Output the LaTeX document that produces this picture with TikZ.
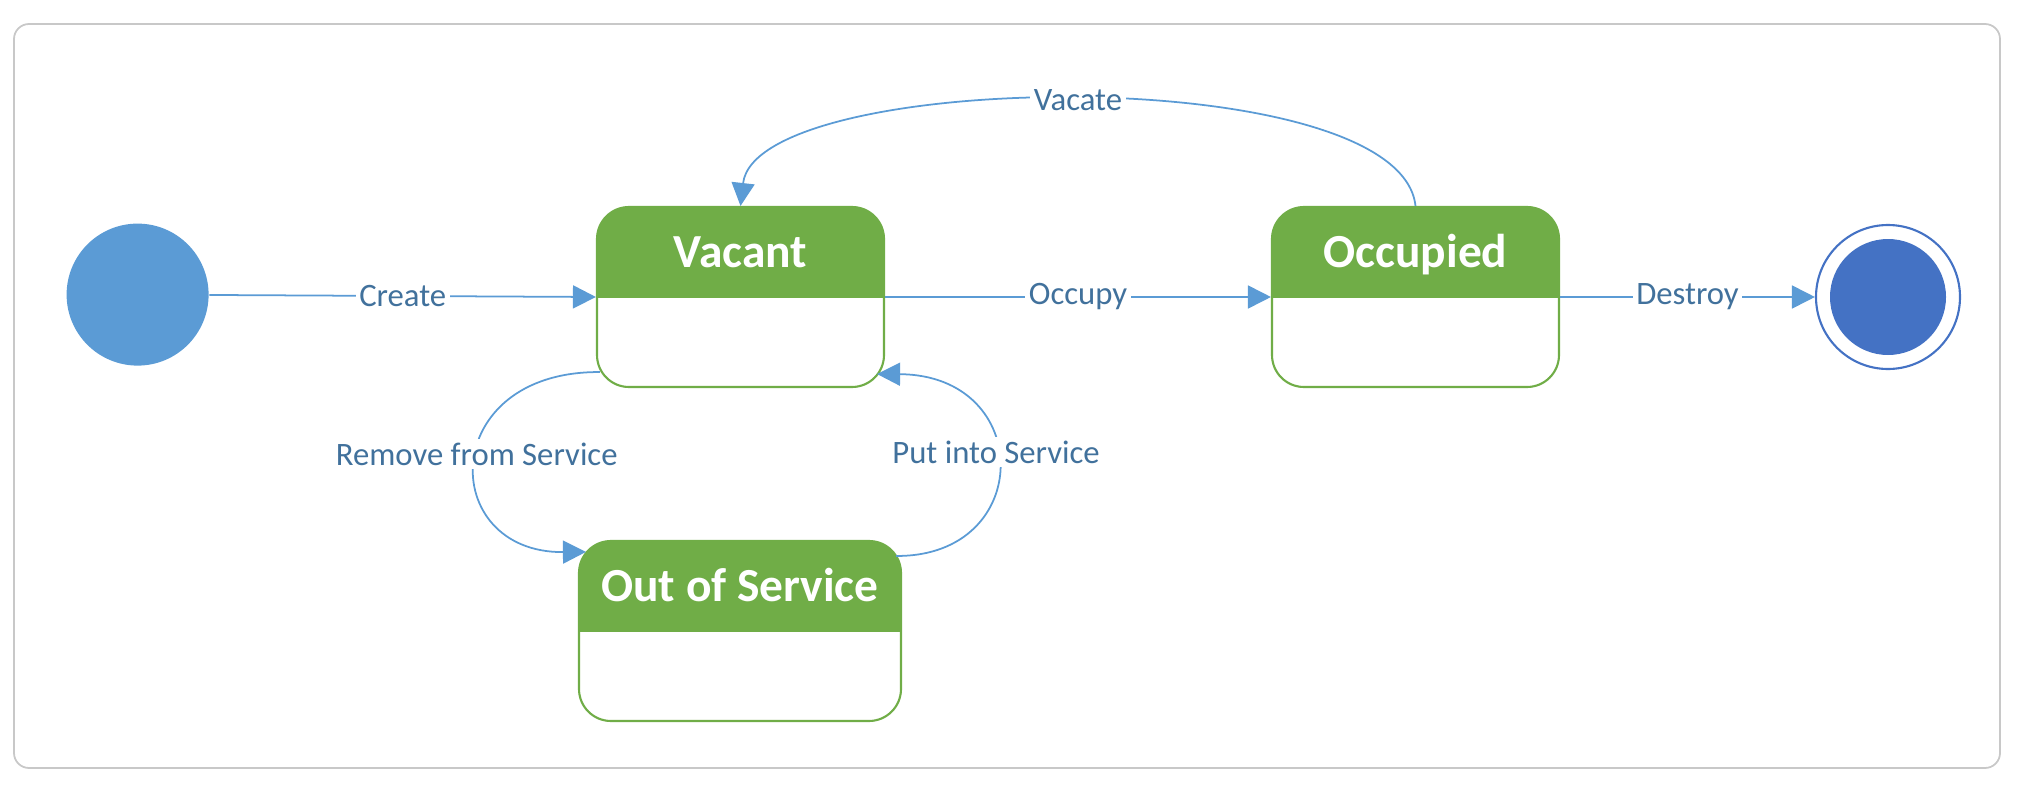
\documentclass[tikz,border=0pt]{standalone}
\usepackage{fontspec}
\setmainfont{Carlito}
\usetikzlibrary{arrows.meta, positioning}
\definecolor{cblue}{HTML}{5B9BD5}
\definecolor{cnavy}{HTML}{4472C4}
\definecolor{cgreen}{HTML}{70AD47}
\definecolor{ctext}{HTML}{41719C}
\definecolor{cframe}{HTML}{C8C8C8}
\tikzset{
  every picture/.style={line width=0.5pt},
  state/.style={draw=cgreen, line width=0.6pt, fill=white, rounded corners=0.32cm, inner sep=0pt,
    minimum width=#1, minimum height=1.8cm, text height=0.6cm, text depth=1.2cm,
    font=\fontsize{13.5}{16}\selectfont\bfseries, text=white,
    path picture={\fill[cgreen, sharp corners] (path picture bounding box.north west) rectangle ([yshift=-0.91cm]path picture bounding box.north east);}},
  state/.default=2.87cm,
  arrow/.style={-{Triangle[length=2.3mm, width=2.3mm]}, draw=cblue, line width=0.5pt},
  lbl/.style={fill=white, inner sep=1pt, text=ctext, font=\fontsize{9.3}{11}\selectfont},
}

\begin{document}
\begin{tikzpicture}[frame/.style={draw=cframe, line width=0.5pt, rounded corners=0.15cm},
                    init/.style={circle, fill=cblue, minimum size=1.42cm, inner sep=0pt},
                    fin/.style={circle, draw=cnavy, line width=0.6pt, minimum size=1.44cm, inner sep=0pt,
                      path picture={\fill[cnavy] (path picture bounding box.center) circle (0.58cm);}}]
  \useasboundingbox (0,0) rectangle (20.17,-7.88);
  \draw[frame] (0.14,-0.24) rectangle (20.00,-7.68);
  % states
  \node[init] (start) at (1.376,-2.946) {};
  \node[state] (vacant) at (7.405,-2.97) {Vacant};
  \node[state] (occupied) at (14.155,-2.97) {Occupied};
  \node[state=3.22cm] (oos) at (7.40,-6.31) {Out of Service};
  \node[fin] (stop) at (18.88,-2.97) {};
  % transitions
  \draw[arrow] (start) -- node[lbl] {Create} (vacant.west);
  \draw[arrow] (vacant.east) -- node[lbl] {Occupy} (occupied.west);
  \draw[arrow] (occupied.east) -- node[lbl] {Destroy} (stop);
  \draw[arrow] (occupied.north) .. controls (14.0,-0.60) and (7.56,-0.69) .. node[lbl] {Vacate} (vacant.north);
  \draw[arrow] ([shift={(0.04,0.16)}]vacant.south west) .. controls (4.37,-3.71) and (4.37,-5.53) .. node[lbl, pos=0.47] {Remove from Service} ([shift={(0.08,-0.12)}]oos.north west);
  \draw[arrow] ([shift={(-0.06,-0.16)}]oos.north east) .. controls (10.35,-5.57) and (10.35,-3.75) .. node[lbl, pos=0.55] {Put into Service} ([shift={(-0.08,0.14)}]vacant.south east);
\end{tikzpicture}
\end{document}
